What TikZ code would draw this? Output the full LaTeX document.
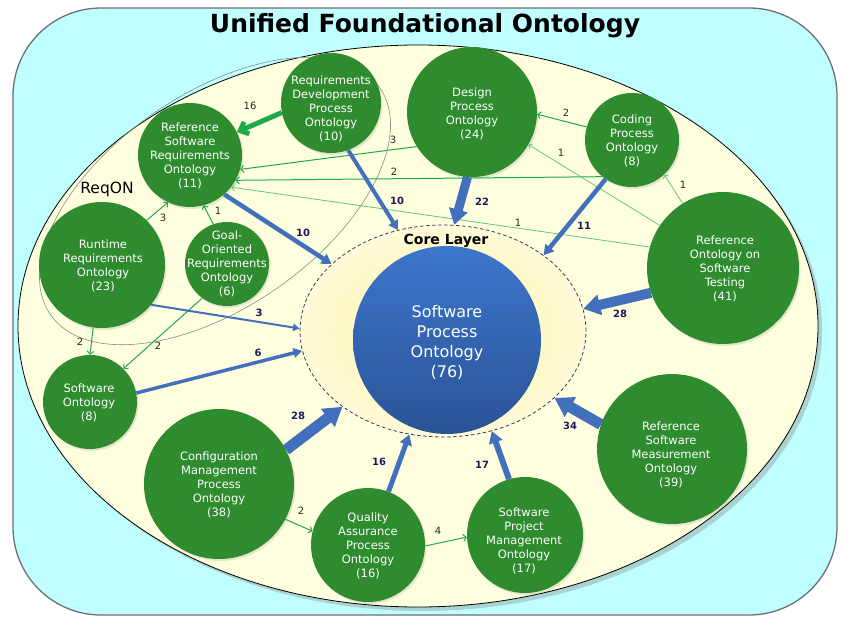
\documentclass[tikz,border=0pt]{standalone}
\usepackage{fontspec}
\setmainfont{DejaVu Sans}
\usetikzlibrary{arrows.meta,shapes.geometric,shadows}
\definecolor{bgcyan}{HTML}{C0FFFF}
\definecolor{framegray}{HTML}{707070}
\definecolor{cream}{HTML}{FFFFE0}
\definecolor{ontogreen}{HTML}{2E8B2E}
\definecolor{arrgreen}{HTML}{1DAA4F}
\definecolor{litegreen}{HTML}{5CC97E}
\definecolor{arrblue}{HTML}{4270BC}
\definecolor{labnavy}{HTML}{1A1A5E}
\definecolor{labgreen}{HTML}{1E2E1E}
\definecolor{coreyel}{HTML}{FFF1A0}
\definecolor{coreout}{HTML}{FFFBD8}
\definecolor{coredash}{HTML}{2F3F5F}
\definecolor{spotop}{HTML}{3D76CC}
\definecolor{spobot}{HTML}{2A5396}
\definecolor{reqgray}{HTML}{8A8A8A}
\newcommand{\ontfont}{\fontsize{11.5}{14}\selectfont}
\begin{document}
\begin{tikzpicture}[x=1pt,y=-1pt,
  onto/.style={circle, fill=ontogreen, inner sep=0pt, minimum size=#1,
    drop shadow={shadow xshift=1.5pt, shadow yshift=-2pt, opacity=0.2}},
  ontotext/.style={text=white, align=center, font=\ontfont, inner sep=0pt},
  garr/.style={draw=arrgreen, line width=1pt, -{Straight Barb[length=3pt,width=7pt]}},
  lgarr/.style={draw=litegreen, line width=0.8pt, -{Straight Barb[length=3pt,width=6pt]}},
  bigg/.style={draw=arrgreen, line width=5pt, -{Straight Barb[length=3pt 0.8,width=5pt 1.6]}},
  barr/.style={draw=arrblue, line width=#1, -{Triangle[length=4pt 1.3,width=4pt 1.6]}},
  glab/.style={font=\fontsize{10}{12}\selectfont, text=labgreen, inner sep=0pt},
  blab/.style={font=\fontsize{10}{12}\selectfont\bfseries, text=labnavy, inner sep=0pt},
]
\useasboundingbox (0,0) rectangle (850,631);
% frame
\node[draw=framegray, line width=1.3pt, fill=bgcyan, rounded corners=88pt,
  minimum width=824pt, minimum height=607pt, inner sep=0pt] (frame) at (425,311.5) {};
\node[anchor=base, font=\fontsize{25}{30}\selectfont\bfseries] (title) at (425,33) {Unified Foundational Ontology};
% plane
\node[ellipse, draw=black, line width=0.8pt, fill=cream, minimum width=800pt, minimum height=562pt,
  inner sep=0pt, drop shadow={shadow xshift=4pt, shadow yshift=-4pt, opacity=0.35}] (plane) at (418,326) {};
% ReqON
\node[ellipse, draw=reqgray, line width=0.6pt, minimum width=400pt, minimum height=214pt,
  inner sep=0pt, rotate=34.6] (reqon) at (215,201) {};
\node[anchor=base, font=\fontsize{15.5}{18}\selectfont] (reqonlbl) at (107,193) {ReqON};
% core layer
\node[ellipse, draw=coredash, dash pattern=on 3.5pt off 2.5pt, line width=0.8pt,
  inner color=coreyel, outer color=coreout, minimum width=286pt, minimum height=212pt,
  inner sep=0pt] (core) at (443,331) {};
\node[anchor=base, font=\fontsize{14}{16}\selectfont\bfseries] (corelbl) at (446,244) {Core Layer};
\node[circle, top color=spotop, bottom color=spobot, minimum size=188pt, inner sep=0pt] (spo) at (447,340) {};
\node[text=white, align=center, font=\fontsize{16}{20}\selectfont, inner sep=0pt] (spot) at (447,342)
  {Software\\Process\\Ontology\\(76)};
% green ontologies
\node[onto=100pt] (rdpo) at (331,103) {};
\node[ontotext] (rdpot) at (331,109) {Requirements\\Development\\Process\\Ontology\\(10)};
\node[onto=104pt] (rsro) at (190,155) {};
\node[ontotext] (rsrot) at (190,156) {Reference\\Software\\Requirements\\Ontology\\(11)};
\node[onto=126pt] (rro) at (102,265) {};
\node[ontotext] (rrot) at (103,266) {Runtime\\Requirements\\Ontology\\(23)};
\node[onto=84pt] (goro) at (227,264) {};
\node[ontotext] (gorot) at (227,264) {Goal-\\Oriented\\Requirements\\Ontology\\(6)};
\node[onto=94pt] (swo) at (90,402) {};
\node[ontotext] (swot) at (89,403) {Software\\Ontology\\(8)};
\node[onto=150pt] (cmpo) at (219,484) {};
\node[ontotext] (cmpot) at (219,485) {Configuration\\Management\\Process\\Ontology\\(38)};
\node[onto=114pt] (qapo) at (368,545) {};
\node[ontotext] (qapot) at (368,546) {Quality\\Assurance\\Process\\Ontology\\(16)};
\node[onto=116pt] (spmo) at (525,535) {};
\node[ontotext] (spmot) at (524,541) {Software\\Project\\Management\\Ontology\\(17)};
\node[onto=150pt] (rsmo) at (672,449) {};
\node[ontotext] (rsmot) at (671,455) {Reference\\Software\\Measurement\\Ontology\\(39)};
\node[onto=152pt] (roost) at (723,268) {};
\node[ontotext] (roostt) at (725,269) {Reference\\Ontology on\\Software\\Testing\\(41)};
\node[onto=94pt] (cpo) at (632,140) {};
\node[ontotext] (cpot) at (632,141) {Coding\\Process\\Ontology\\(8)};
\node[onto=130pt] (dpo) at (472,112) {};
\node[ontotext] (dpot) at (472,113.5) {Design\\Process\\Ontology\\(24)};
% green connectors
\draw[bigg] (rdpo.191) -- (rsro.26);
\draw[garr] (dpo.212) -- (rsro.344);
\draw[garr] (cpo.231) -- (rsro.331);
\draw[lgarr] (roost.164) -- (rsro.322);
\draw[lgarr] (roost.146) -- (dpo.330);
\draw[lgarr] (roost.122) -- (cpo.313);
\draw[garr] (cpo.164) -- (dpo.358);
\draw[garr] (rro.45) -- (rsro.245);
\draw[garr] (goro.109) -- (rsro.285);
\draw[garr] (rro.262) -- (swo.90);
\draw[garr] (goro.234) -- (swo.45);
\draw[garr] (cmpo.332) -- (qapo.166);
\draw[garr] (qapo.359) -- (spmo.182);
% blue connectors
\draw[barr=4pt] (rdpo.290) -- (core.114.5);
\draw[barr=4.5pt] (rsro.311) -- (core.149);
\draw[barr=9pt] (dpo.266) -- (core.84);
\draw[barr=4.5pt] (cpo.236) -- (core.37);
\draw[barr=10pt] (roost.199) -- (core.9);
\draw[barr=2pt] (rro.321) -- (core.179);
\draw[barr=3.5pt] (swo.11) -- (core.188);
\draw[barr=11pt] (cmpo.27) -- (core.217);
\draw[barr=5pt] (qapo.69) -- (core.252);
\draw[barr=6pt] (spmo.106) -- (core.296);
\draw[barr=11pt] (rsmo.161) -- (core.329);
% green labels
\node[glab] (l1) at (250,106) {16};
\node[glab] (l2) at (393,140) {3};
\node[glab] (l3) at (394,172) {2};
\node[glab] (l4) at (518,223) {1};
\node[glab] (l5) at (561,153) {1};
\node[glab] (l6) at (683,185) {1};
\node[glab] (l7) at (566,113) {2};
\node[glab] (l8) at (163,218) {3};
\node[glab] (l9) at (218,211) {1};
\node[glab] (l10) at (80,342) {2};
\node[glab] (l11) at (158,346) {2};
\node[glab] (l12) at (301,511) {2};
\node[glab] (l13) at (438,531) {4};
% blue labels
\node[blab] (b1) at (397,201) {10};
\node[blab] (b2) at (303,233) {10};
\node[blab] (b3) at (482,202) {22};
\node[blab] (b4) at (584,226) {11};
\node[blab] (b5) at (620,314) {28};
\node[blab] (b6) at (259,313) {3};
\node[blab] (b7) at (258,353) {6};
\node[blab] (b8) at (298,416) {28};
\node[blab] (b9) at (379,462) {16};
\node[blab] (b10) at (482,465) {17};
\node[blab] (b11) at (570,426) {34};
\end{tikzpicture}
\end{document}
